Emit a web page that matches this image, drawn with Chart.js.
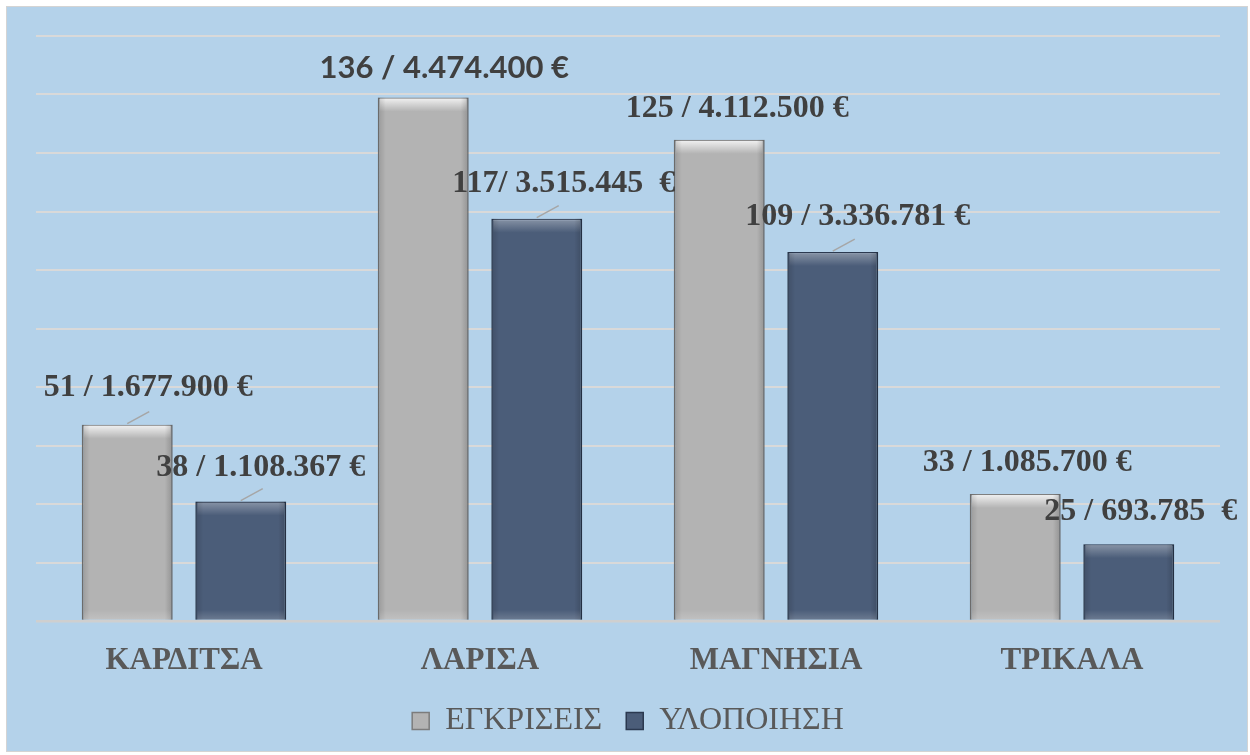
<!DOCTYPE html>
<html>
<head>
<meta charset="utf-8">
<script src="https://cdn.jsdelivr.net/npm/chart.js@4"></script>
<style>
  html, body { margin: 0; padding: 0; background: #ffffff; }
  #frame {
    position: absolute; left: 6px; top: 6px;
    width: 1240px; height: 744px;
    border: 1px solid #d4d4d4;
    background: #b4d2ea;
  }
  canvas { display: block; }
</style>
</head>
<body>
<div id="frame"><canvas id="chart" width="1240" height="744"></canvas></div>
<script>
// data
const categories = ["ΚΑΡΔΙΤΣΑ", "ΛΑΡΙΣΑ", "ΜΑΓΝΗΣΙΑ", "ΤΡΙΚΑΛΑ"];
// bar heights as drawn (grid step 500.000 €)
const approvalsBars = [1677900, 4474400, 4112500, 1085700];
const implementationBars = [1021000, 3439000, 3153000, 657000];
const approvalsLabels = ["51 / 1.677.900 €", "136 / 4.474.400 €", "125 / 4.112.500 €", "33 / 1.085.700 €"];
const implementationLabels = ["38 / 1.108.367 €", "117/ 3.515.445  €", "109 / 3.336.781 €", "25 / 693.785  €"];
const yMin = 0, yMax = 5000000, yStep = 500000;

// label placement relative to bar top centre (style only)
const labelStyle = [
  [ { dx: 21, dy: -37, leader: true,  sans: false },
    { dx: 21, dy: -29, leader: false, sans: true  },
    { dx: 18, dy: -31, leader: false, sans: false },
    { dx: 12, dy: -31, leader: false, sans: false } ],
  [ { dx: 20, dy: -34, leader: true,  sans: false },
    { dx: 27, dy: -35, leader: true,  sans: false },
    { dx: 25, dy: -35, leader: true,  sans: false },
    { dx: 12, dy: -32, leader: false, sans: false } ]
];
const datasetLabels = [approvalsLabels, implementationLabels];

const serif = "'Liberation Serif', 'Times New Roman', serif";
Chart.defaults.font.family = serif;

// bevel shading on each bar
const bevelPlugin = {
  id: "bevel",
  afterDatasetsDraw(chart) {
    const ctx = chart.ctx;
    chart.data.datasets.forEach((ds, di) => {
      const light = di === 0;
      chart.getDatasetMeta(di).data.forEach(bar => {
        const l = bar.x - bar.width / 2, r = bar.x + bar.width / 2;
        const t = bar.y, b = bar.base;
        ctx.save();
        let g = ctx.createLinearGradient(0, t, 0, t + 14);
        g.addColorStop(0, light ? "rgba(255,255,255,0.85)" : "rgba(255,255,255,0.35)");
        g.addColorStop(1, "rgba(255,255,255,0)");
        ctx.fillStyle = g;
        ctx.fillRect(l + 2, t + 1, r - l - 4, 14);
        g = ctx.createLinearGradient(l, 0, l + 8, 0);
        g.addColorStop(0, "rgba(0,0,0,0.15)");
        g.addColorStop(1, "rgba(0,0,0,0)");
        ctx.fillStyle = g;
        ctx.fillRect(l, t, 8, b - t);
        g = ctx.createLinearGradient(r, 0, r - 8, 0);
        g.addColorStop(0, "rgba(0,0,0,0.18)");
        g.addColorStop(1, "rgba(0,0,0,0)");
        ctx.fillStyle = g;
        ctx.fillRect(r - 8, t, 8, b - t);
        g = ctx.createLinearGradient(0, b, 0, b - 10);
        g.addColorStop(0, "rgba(255,255,255,0.18)");
        g.addColorStop(1, "rgba(255,255,255,0)");
        ctx.fillStyle = g;
        ctx.fillRect(l + 2, b - 10, r - l - 4, 10);
        ctx.restore();
      });
    });
  }
};

// value labels with short leader lines
const valueLabelPlugin = {
  id: "valueLabels",
  afterDraw(chart) {
    const ctx = chart.ctx;
    chart.data.datasets.forEach((ds, di) => {
      chart.getDatasetMeta(di).data.forEach((bar, i) => {
        const st = labelStyle[di][i];
        ctx.save();
        if (st.leader) {
          ctx.strokeStyle = "#a6a6a6";
          ctx.lineWidth = 1.5;
          ctx.beginPath();
          ctx.moveTo(bar.x, bar.y - 1);
          ctx.lineTo(bar.x + 22, bar.y - 13);
          ctx.stroke();
        }
        ctx.fillStyle = "#404040";
        ctx.font = st.sans ? "bold 31px Lato, 'Liberation Sans', sans-serif" : "bold 32px " + serif;
        ctx.textAlign = "center";
        ctx.textBaseline = "middle";
        ctx.fillText(datasetLabels[di][i], bar.x + st.dx, bar.y + st.dy);
        ctx.restore();
      });
    });
  }
};

new Chart(document.getElementById("chart"), {
  type: "bar",
  data: {
    labels: categories,
    datasets: [
      {
        label: "ΕΓΚΡΙΣΕΙΣ",
        data: approvalsBars,
        backgroundColor: "#b3b3b3",
        borderColor: "#7c7c7c",
        borderWidth: 1.5
      },
      {
        label: "ΥΛΟΠΟΙΗΣΗ",
        data: implementationBars,
        backgroundColor: "#4b5d79",
        borderColor: "#2b3950",
        borderWidth: 1.5
      }
    ]
  },
  options: {
    responsive: false,
    animation: false,
    categoryPercentage: 0.767,
    barPercentage: 0.8,
    layout: { padding: { left: 29, right: 27, top: 29, bottom: 4 } },
    plugins: {
      tooltip: { enabled: false },
      legend: {
        position: "bottom",
        labels: {
          color: "#595959",
          font: { size: 32, family: serif },
          boxWidth: 17,
          boxHeight: 17,
          padding: 24
        }
      }
    },
    scales: {
      x: {
        grid: { display: false, drawTicks: false },
        border: { display: false },
        ticks: {
          color: "#595959",
          font: { size: 31, weight: "bold", family: serif },
          padding: 21
        },
        afterFit: scale => { scale.height = 60; }
      },
      y: {
        min: yMin,
        max: yMax,
        border: { display: false },
        grid: {
          drawTicks: false,
          color: ctx => ctx.tick && ctx.tick.value === 0 ? "#cfcfcf" : "#d9d9d9",
          lineWidth: ctx => ctx.tick && ctx.tick.value === 0 ? 2.5 : 2
        },
        ticks: { display: false, stepSize: yStep }
      }
    }
  },
  plugins: [bevelPlugin, valueLabelPlugin]
});
</script>
</body>
</html>
